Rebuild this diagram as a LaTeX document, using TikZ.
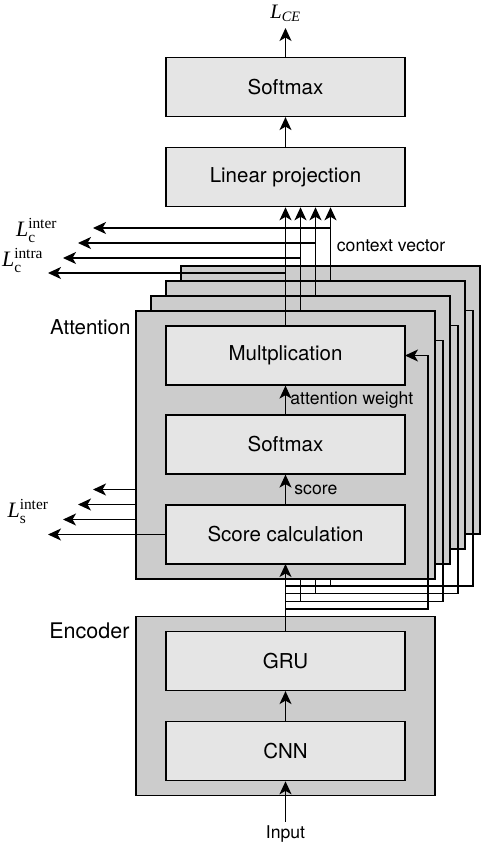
\documentclass[tikz,border=0pt]{standalone}
\usepackage{amsmath}
\usepackage[no-math]{fontspec}
\setmainfont{TeX Gyre Heros}
\newfontfamily\tms{Liberation Serif}
\usepackage{tikz}
\usetikzlibrary{positioning}
\usetikzlibrary{arrows.meta}
\newcommand{\lossL}[2]{$\text{\tms\itshape L}_{\text{\tms #1}}^{\text{\tms #2}}$}

\begin{document}
\begin{tikzpicture}[x=1pt,y=-1pt,line width=1.2pt,>={Stealth[length=13pt,width=12pt,inset=3.5pt]}]
\tikzstyle{blk}=[draw, fill=black!10, minimum width=239pt, minimum height=59pt, inner sep=0pt, font=\fontsize{20.5}{24}\selectfont]
\tikzstyle{grp}=[draw, fill=black!20, minimum width=299pt, inner sep=0pt]
\tikzstyle{big}=[font=\fontsize{20.5}{24}\selectfont]
\tikzstyle{lbl}=[font=\fontsize{17.6}{20}\selectfont]
\tikzstyle{loss}=[font=\fontsize{22}{24}\selectfont, inner sep=0pt]
\useasboundingbox (0,0) rectangle (482,844);

% classifier on top
\node[blk] (smax) at (285.5,87) {Softmax};
\node[blk, below=30pt of smax] (lin) {Linear projection};
\node[loss, anchor=base, font=\fontsize{20.5}{24}\selectfont] (lce) at (285.5,18) {$\text{\tms\itshape L}_{\text{\tms\itshape CE}}$};
\draw[->] (lin) -- (smax);
\draw[->] (smax.north) -- ([yshift=-10pt]lce.base);

% encoder
\node[grp, minimum height=179pt] (enc) at (285.5,706) {};
\node[blk] (gru) at (285.5,661) {GRU};
\node[blk, below=30pt of gru] (cnn) {CNN};
\node[big, anchor=east, font=\fontsize{21.5}{24}\selectfont] (enclbl) at ([xshift=-2pt,yshift=-15pt]enc.north west) {Encoder};
\node[lbl] (inp) at (285.5,834) {Input};
\draw[->] (inp) -- (cnn);
\draw[->] (cnn) -- (gru);

% stacked attention heads, back to front
\foreach \k in {4,3,2,1}{
  \pgfmathsetmacro{\d}{15*(\k-1)}
  \pgfmathsetmacro{\yb}{609-7.67*(\k-1)}
  \node[grp, minimum height=268pt] (att\k) at (285.5+\d,445-\d) {};
  \coordinate (mtop\k) at (285.5+\d,326-\d);
  \coordinate (meast\k) at (405+\d,355.5-\d);
  \coordinate (sbot\k) at (285.5+\d,564-\d);
  \coordinate (swest\k) at (166+\d,534.5-\d);
  \coordinate (br\k) at (285.5,\yb);
  \coordinate (lc\k) at (48+\d,273-\d);
  \coordinate (ls\k) at (48+\d,534.5-\d);
  \ifnum\k=1
    \node[blk] (mult1) at (285.5,355.5) {Multplication};
    \node[blk] (soft1) at (285.5,444.5) {Softmax};
    \node[blk] (score1) at (285.5,534.5) {Score calculation};
    \draw[->] (soft1) -- node[lbl, right, xshift=1pt] {attention weight} (mult1);
    \draw[->] (score1) -- node[lbl, right, xshift=5pt] {score} (soft1);
  \fi
  \draw[->] (gru.north) -- (br\k) -| (sbot\k);
  \draw[->] (br\k) -| ([xshift=23pt]meast\k) -- (meast\k);
  \draw[->] (mtop\k) -- (mtop\k |- lin.south);
  \draw[->] (mtop\k |- lc\k) -- (lc\k);
  \draw[->] (swest\k) -- (ls\k);
}
\node[big, anchor=east] (attlbl) at ([xshift=-1pt,yshift=-17pt]att1.north west) {Attention};
\node[lbl, anchor=west] (ctx) at (333,246) {context vector};

% loss labels
\node[loss] (lcinter) at (36.5,230) {\lossL{c}{inter}};
\node[loss] (lcintra) at (22.5,260) {\lossL{c}{intra}};
\node[loss] (lsinter) at (28,511) {\lossL{s}{inter}};
\end{tikzpicture}
\end{document}
